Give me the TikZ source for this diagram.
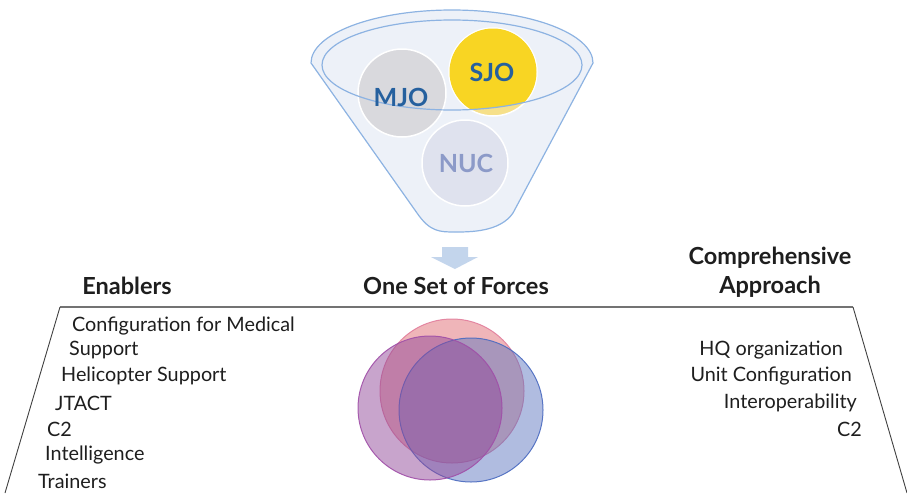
\documentclass[tikz,border=0pt]{standalone}
\usepackage{fontspec}
\setmainfont{Lato}
\usetikzlibrary{calc}
\definecolor{funnelfill}{HTML}{EDF1F8}
\definecolor{funnelline}{HTML}{8DB3E2}
\definecolor{mjogray}{HTML}{D9D9DD}
\definecolor{sjoyellow}{HTML}{F8D523}
\definecolor{sjopale}{HTML}{F6E08A}
\definecolor{nucfill}{HTML}{DFE2EE}
\definecolor{labblue}{HTML}{25609E}
\definecolor{nucblue}{HTML}{8C9AC8}
\definecolor{arrowblue}{HTML}{C3D5EC}
\definecolor{pinkfill}{HTML}{E06C74}
\definecolor{pinkline}{HTML}{E27E9C}
\definecolor{purpfill}{HTML}{914999}
\definecolor{purpline}{HTML}{A04FA8}
\definecolor{bluefill}{HTML}{5A74BE}
\definecolor{blueline}{HTML}{4A6AC0}
\definecolor{txt}{HTML}{1E1E1E}
\tikzset{
  heading/.style={font=\bfseries\fontsize{23.5}{29}\selectfont, text=txt, align=center, inner sep=0pt},
  item/.style={font=\fontsize{19.8}{22}\selectfont, text=txt, inner sep=0pt},
  bubble/.style={circle, draw=white, line width=1.5pt, inner sep=0pt},
  bublabel/.style={font=\bfseries\fontsize{25}{28}\selectfont, inner sep=0pt},
  venn/.style={circle, line width=1pt, draw opacity=0.9, inner sep=0pt, minimum size=144pt},
  frameline/.style={draw=black!75, line width=0.9pt}
}
\begin{document}
\begin{tikzpicture}[x=1pt,y=-1pt]
\useasboundingbox (0,0) rectangle (907,501);
% funnel
\draw[fill=funnelfill, draw=funnelline, line width=1.2pt]
  (311,63) -- (417,213) .. controls (430,232) and (440,232) .. (455,232)
  .. controls (470,232) and (500,232) .. (513,213) -- (593,63)
  arc[start angle=0, end angle=-180, x radius=141, y radius=53] -- cycle;
% bubbles
\node[bubble, fill=mjogray, minimum size=88pt] (mjo) at (402,93) {};
\node[bubble, fill=sjopale, minimum size=88pt] (sjo) at (493,72) {};
\begin{scope}
  \clip (452,65) ellipse[x radius=130, y radius=45];
  \fill[sjoyellow] (493,72) circle[radius=43.5];
\end{scope}
\node[bubble, fill=nucfill, minimum size=86pt] (nuc) at (465,163) {};
\draw[funnelline, line width=1.2pt] (452,65) ellipse[x radius=130, y radius=45];
\node[bublabel, text=labblue] (mjol) at (401,97) {MJO};
\node[bublabel, text=labblue] (sjol) at (492,72) {SJO};
\node[bublabel, text=nucblue] (nucl) at (466,163) {NUC};
% arrow
\fill[arrowblue] (442,247) -- (468,247) -- (468,257) -- (478,257) -- (455,269) -- (431,257) -- (442,257) -- cycle;
% headings
\node[heading] (enab) at (127,286) {Enablers};
\node[heading] (osf) at (456,286) {One Set of Forces};
\node[heading] (comp) at (770,272) {Comprehensive\\Approach};
% frame
\coordinate (tl) at (60,307);
\coordinate (tr) at (853,307);
\coordinate (bl) at (5,493);
\coordinate (br) at (907,493);
\draw[draw=black!55, line width=1.6pt] (tl) -- (tr);
\draw[frameline] (tl) -- (bl);
\draw[frameline] (tr) -- (br);
% left items
\node[item, anchor=west] (e1) at (72,326) {Configuration for Medical};
\node[item, anchor=west] (e2) at (69,350) {Support};
\node[item, anchor=west] (e3) at (61,376) {Helicopter Support};
\node[item, anchor=west] (e4) at (55,403) {JTACT};
\node[item, anchor=west] (e5) at (47,429) {C2};
\node[item, anchor=west] (e6) at (45,455) {Intelligence};
\node[item, anchor=west] (e7) at (38,481) {Trainers};
% right items
\node[item, anchor=east] (c1) at (843,350) {HQ organization};
\node[item, anchor=east] (c2) at (852,376) {Unit Configuration};
\node[item, anchor=east] (c3) at (857,403) {Interoperability};
\node[item, anchor=east] (c4) at (862,429) {C2};
% venn
\node[venn, fill=pinkfill, fill opacity=0.5, draw=pinkline] (v1) at (452,391) {};
\node[venn, fill=bluefill, fill opacity=0.48, draw=blueline] (v3) at (471,410) {};
\node[venn, fill=purpfill, fill opacity=0.5, draw=purpline] (v2) at (430,408) {};
\end{tikzpicture}
\end{document}
